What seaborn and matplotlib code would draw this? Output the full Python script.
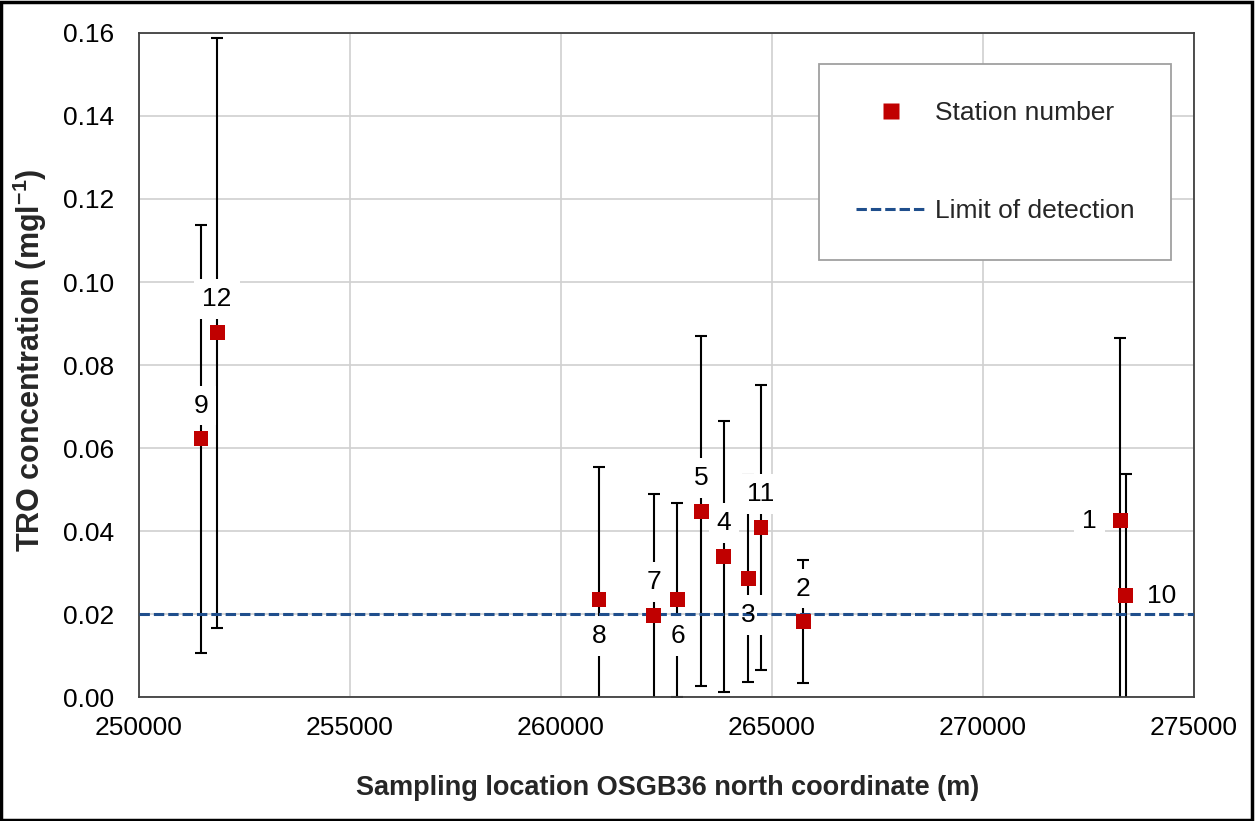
import matplotlib
matplotlib.use("Agg")
import matplotlib.pyplot as plt
import seaborn as sns
import pandas as pd
from matplotlib.lines import Line2D
from matplotlib.patches import Rectangle

# ---- data ----
stations = ["9", "12", "8", "7", "6", "5", "4", "3", "11", "2", "1", "10"]
north = [251470, 251850, 260900, 262200, 262760, 263320, 263860, 264440,
         264740, 265740, 273250, 273380]
tro = [0.0622, 0.0878, 0.0234, 0.0196, 0.0234, 0.0448, 0.0338, 0.0285,
       0.0409, 0.0181, 0.0425, 0.0244]
tro_err = [0.0516, 0.0711, 0.0320, 0.0292, 0.0233, 0.0422, 0.0327, 0.0250,
           0.0344, 0.0148, 0.0439, 0.0293]
label_side = ["above", "above", "below", "above", "below", "above", "above",
              "below", "above", "above", "left", "right"]
lod = 0.02
x_ticks = [250000, 255000, 260000, 265000, 270000, 275000]
y_ticks = [0.00, 0.02, 0.04, 0.06, 0.08, 0.10, 0.12, 0.14, 0.16]

df = pd.DataFrame({"station": stations, "north": north, "tro": tro,
                   "err": tro_err, "side": label_side})

sns.set_theme(style="whitegrid")
plt.rcParams["font.family"] = ["Liberation Sans", "DejaVu Sans"]

fig = plt.figure(figsize=(12.55, 8.21), dpi=100)
ax = fig.add_axes([139 / 1255, 1 - 697 / 821, (1194 - 139) / 1255, (697 - 33) / 821])
ax.set_facecolor("white")

# gridlines
ax.grid(True, color="#d0d0d0", linewidth=1.2)
ax.set_axisbelow(True)

# error bars
ax.errorbar(df["north"], df["tro"], yerr=df["err"], fmt="none",
            ecolor="black", elinewidth=1.5, capsize=4.5, capthick=1.5, zorder=2)

# station label backgrounds (white boxes hide the error bars)
offsets = {"above": (0, 24), "below": (0, -26), "left": (-22, 0), "right": (26, 0)}
for _, r in df.iterrows():
    dx, dy = offsets[r["side"]]
    ax.annotate(r["station"], (r["north"], r["tro"]), xytext=(dx, dy),
                textcoords="offset points", ha="center", va="center",
                fontsize=19, color="white", zorder=2.5,
                bbox=dict(boxstyle="square,pad=0.3", fc="white", ec="none"))

# limit of detection line
ax.axhline(lod, color="#1F4E8C", linestyle=(0, (3.4, 1.3)), linewidth=2.2, zorder=3)

# markers
sns.scatterplot(data=df, x="north", y="tro", marker="s", s=115, color="#C00000",
                edgecolor="none", linewidth=0, ax=ax, zorder=4, legend=False)

# station label texts
for _, r in df.iterrows():
    dx, dy = offsets[r["side"]]
    ax.annotate(r["station"], (r["north"], r["tro"]), xytext=(dx, dy),
                textcoords="offset points", ha="center", va="center",
                fontsize=19, color="black", zorder=6)

ax.set_xlim(250000, 275000)
ax.set_ylim(0, 0.16)
ax.set_xticks(x_ticks)
ax.set_xticklabels([str(v) for v in x_ticks])
ax.set_yticks(y_ticks)
ax.set_yticklabels([f"{v:.2f}" for v in y_ticks])
ax.tick_params(axis="both", which="major", direction="out", length=7, width=1.2,
               color="#404040", labelsize=19, labelcolor="black")
ax.tick_params(axis="y", pad=11)
ax.tick_params(axis="x", pad=7)
for sp in ax.spines.values():
    sp.set_visible(True)
    sp.set_color("#404040")
    sp.set_linewidth(1.3)
ax.set_xlabel("")
ax.set_ylabel("")

# axis titles (bold)
fig.text(668 / 1255, 1 - 788 / 821, "Sampling location OSGB36 north coordinate (m)",
         ha="center", va="center", fontsize=19.5, fontweight="bold")
fig.text(30 / 1255, 1 - 360 / 821, "TRO concentration (mgl$^{\\mathregular{-1}}$)",
         ha="center", va="center", rotation=90, fontsize=22, fontweight="bold")

# legend
handles = [
    Line2D([0], [0], marker="s", color="none", markerfacecolor="#C00000",
           markeredgecolor="none", markersize=11, label="Station number"),
    Line2D([0], [0], color="#1F4E8C", linestyle=(0, (3.4, 1.3)), linewidth=2.2,
           label="Limit of detection"),
]
leg = ax.legend(handles=handles, loc="upper left",
                bbox_to_anchor=((819 - 139) / 1055, (697 - 64) / 664),
                frameon=True, fancybox=False, fontsize=19, borderpad=1.4,
                labelspacing=2.82, handlelength=2.65, handletextpad=0.33,
                borderaxespad=0)
leg.set_zorder(10)
leg.get_frame().set_edgecolor("#a0a0a0")
leg.get_frame().set_linewidth(1.3)
leg.get_frame().set_facecolor("white")
leg.get_frame().set_alpha(1)

# outer figure frame
fig.patches.append(Rectangle((0.001, 0.001), 0.997, 0.997, transform=fig.transFigure,
                             fill=False, edgecolor="black", linewidth=2.5))

fig.savefig("out.png", dpi=100, facecolor="white")
